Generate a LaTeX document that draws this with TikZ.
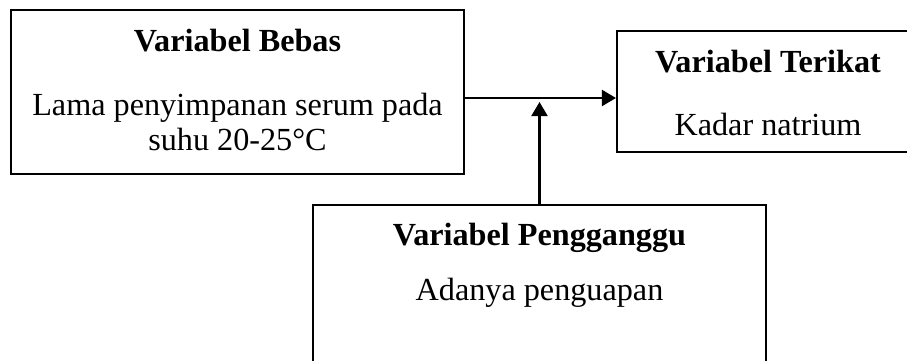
\documentclass[tikz,border=0pt]{standalone}
\usepackage{fontspec}
\setmainfont{Liberation Serif}
\usetikzlibrary{arrows.meta}
\begin{document}
\begin{tikzpicture}[x=1pt,y=-1pt,
  box/.style={draw,line width=2.1pt,rectangle,inner sep=0pt},
  txt/.style={anchor=base,inner sep=0pt,font=\fontsize{32.2}{36}\selectfont},
  ttl/.style={txt,font=\fontsize{32.2}{36}\selectfont\bfseries},
  arr/.style={line width=2.1pt,-{Triangle[length=14pt,width=16pt]}}]
\useasboundingbox (0,0) rectangle (907,361);
% boxes
\node[box,minimum width=453pt,minimum height=164pt] (bebas) at (237.5,92) {};
\node[box,minimum width=303pt,minimum height=121pt] (terikat) at (768.5,91.5) {};
\node[box,minimum width=453pt,minimum height=200pt] (ganggu) at (539.5,305) {};
% texts
\node[ttl] (t1) at (237.5,52) {Variabel Bebas};
\node[txt] (t1a) at (237.5,115) {Lama penyimpanan serum pada};
\node[txt] (t1b) at (237.5,150) {suhu 20-25°C};
\node[ttl] (t2) at (768,72) {Variabel Terikat};
\node[txt] (t2a) at (768,135) {Kadar natrium};
\node[ttl] (t3) at (539.5,245) {Variabel Pengganggu};
\node[txt] (t3a) at (539.5,300) {Adanya penguapan};
% connectors
\coordinate (ay) at (0,98);
\coordinate (tip) at (539.5,102);
\draw[arr] (bebas.east |- ay) -- (terikat.west |- ay);
\draw[arr] (ganggu.north) -- (ganggu.north |- tip);
\end{tikzpicture}
\end{document}
